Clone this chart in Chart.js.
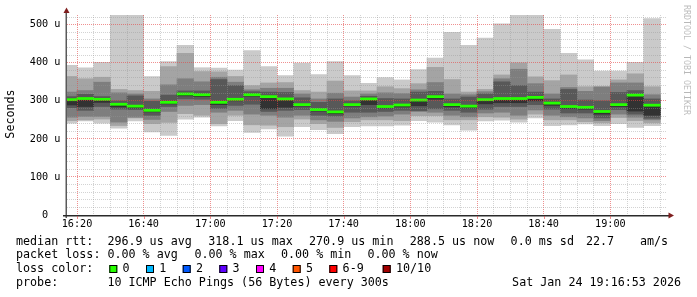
<!DOCTYPE html>
<html>
<head>
<meta charset="utf-8">
<script src="https://cdn.jsdelivr.net/npm/chart.js@4/dist/chart.umd.min.js"></script>
<style>
  html, body { margin: 0; padding: 0; background: #fff; overflow: hidden; }
</style>
</head>
<body>
<canvas id="smokeChart" width="697" height="297"></canvas>
<script>
// 5 minute slots (start time of each step)
const slots = ['16:15','16:20','16:25','16:30','16:35','16:40','16:45','16:50','16:55',
  '17:00','17:05','17:10','17:15','17:20','17:25','17:30','17:35','17:40',
  '17:45','17:50','17:55','18:00','18:05','18:10','18:15','18:20','18:25',
  '18:30','18:35','18:40','18:45','18:50','18:55','19:00','19:05','19:10'];

// median rtt (us)
const median = [303, 306, 304, 291, 286, 275, 296, 318.1, 316, 296, 304, 316, 311, 305, 290, 277, 270.9, 290,
  305, 285, 289, 302, 311, 290, 286, 303, 306, 306, 309, 294, 285, 283, 272, 290, 315, 288.5];

// sorted ping times (us), ping1 = fastest ... ping10 = slowest
const ping1  = [241, 247, 241, 228, 247, 218, 209, 252, 257, 234, 248, 217, 226, 207, 232, 224, 214, 232,
  234, 234, 236, 248, 244, 237, 223, 247, 249, 244, 255, 235, 237, 239, 235, 240, 230, 235];
const ping2  = [248, 250, 252, 235, 255, 240, 243, 266, 262, 240, 262, 237, 236, 232, 252, 240, 230, 245,
  250, 250, 248, 261, 261, 250, 250, 258, 257, 252, 265, 250, 250, 245, 242, 256, 248, 242];
const ping3  = [257, 259, 259, 244, 257, 251, 272, 288, 290, 270, 275, 265, 262, 257, 262, 250, 246, 255,
  258, 260, 265, 272, 270, 262, 258, 268, 270, 262, 276, 262, 258, 255, 248, 265, 257, 250];
const ping4  = [282, 275, 285, 278, 277, 262, 285, 305, 304, 280, 288, 291, 272, 275, 277, 262, 260, 270,
  270, 272, 275, 274, 279, 275, 270, 278, 285, 285, 290, 278, 268, 268, 255, 277, 265, 254];
const ping5  = [289, 285, 296, 284, 281, 271, 292, 313, 311, 290, 300, 312, 279, 283, 286, 273, 266, 286,
  290, 281, 284, 287, 304, 284, 281, 292, 295, 295, 300, 288, 280, 278, 265, 285, 273, 262];
const ping6  = [303, 306, 304, 291, 286, 275, 296, 318, 316, 296, 304, 316, 311, 305, 290, 277, 271, 290,
  305, 285, 289, 302, 311, 290, 286, 303, 306, 306, 309, 294, 285, 283, 272, 290, 315, 289];
const ping7  = [311, 317, 311, 300, 313, 299, 315, 326, 326, 356, 340, 324, 323, 322, 308, 296, 305, 300,
  312, 306, 305, 323, 325, 305, 310, 318, 350, 340, 323, 305, 330, 302, 300, 322, 327, 305];
const ping8  = [323, 327, 349, 321, 318, 305, 342, 358, 350, 362, 349, 329, 333, 333, 318, 305, 320, 310,
  318, 321, 319, 329, 348, 318, 316, 324, 358, 383, 345, 318, 335, 325, 336, 347, 347, 316];
const ping9  = [364, 358, 362, 330, 327, 325, 390, 425, 377, 376, 364, 340, 347, 348, 327, 323, 352, 326,
  326, 337, 332, 345, 388, 356, 323, 330, 368, 400, 363, 353, 368, 337, 338, 355, 371, 337];
const ping10 = [393, 387, 401, 600, 600, 364, 403, 446, 387, 386, 381, 432, 390, 366, 399, 369, 403, 366,
  346, 361, 355, 382, 412, 480, 446, 465, 502, 600, 600, 488, 425, 408, 378, 378, 401, 516];

// axis
const timeStart = '16:17';
const timeEnd = '19:17';
const yMax = 525.5;
const xTickLabels = ['16:20','16:40','17:00','17:20','17:40','18:00','18:20','18:40','19:00'];
const yTickLabels = ['0', '100 u', '200 u', '300 u', '400 u', '500 u'];

const toMin = t => { const [h, m] = t.split(':').map(Number); return h * 60 + m - 16 * 60; };
const fmtMin = v => { const t = v + 16 * 60; return String(Math.floor(t / 60)).padStart(2, '0') + ':' + String(t % 60).padStart(2, '0'); };

const pings = [ping1, ping2, ping3, ping4, ping5, ping6, ping7, ping8, ping9, ping10];
const centers = slots.map(t => toMin(t) + 2.5);
const shades = ['#cacaca', '#a4a4a4', '#7e7e7e', '#585858', '#323232'];
const medHalf = 2.8;

const barBase = { grouped: false, barPercentage: 1, categoryPercentage: 1, borderWidth: 0, clip: 0 };

const datasets = shades.map((c, k) => Object.assign({
  label: 'smoke' + (k + 1),
  data: centers.map((x, i) => ({ x: x, y: [pings[k][i], pings[9 - k][i]] })),
  backgroundColor: c,
  order: 5 - k
}, barBase));

datasets.push(Object.assign({
  label: 'median rtt',
  data: centers.map((x, i) => ({ x: x, y: [median[i] - medHalf, median[i] + medHalf] })),
  backgroundColor: '#26ff00',
  order: 0
}, barBase));

const xGrid = [];
for (let v = 20; v < toMin(timeEnd); v += 5) xGrid.push(v);
const yGrid = [];
for (let v = 0; v < yMax; v += 20) yGrid.push(v);

const MAJOR = 'rgba(228, 70, 70, 0.6)';
const MINOR = 'rgba(150, 150, 150, 0.42)';
const MONO = '"DejaVu Sans Mono", monospace';

// rrdtool style decorations: axes, arrows, legend text
const rrdDecor = {
  id: 'rrdDecor',
  afterDraw(chart) {
    const ctx = chart.ctx;
    const a = chart.chartArea;
    ctx.save();

    // axes
    ctx.lineWidth = 1.5;
    ctx.strokeStyle = '#5a5a5a';
    ctx.beginPath();
    ctx.moveTo(a.left - 0.75, a.bottom + 3);
    ctx.lineTo(a.left - 0.75, 11);
    ctx.stroke();
    ctx.strokeStyle = '#2a2a2a';
    ctx.beginPath();
    ctx.moveTo(a.left - 4, a.bottom + 0.75);
    ctx.lineTo(a.right + 3, a.bottom + 0.75);
    ctx.stroke();

    // small major ticks under the time axis
    ctx.lineWidth = 1;
    ctx.strokeStyle = MAJOR;
    const xs = chart.scales.x;
    xTickLabels.forEach(t => {
      const px = Math.round(xs.getPixelForValue(toMin(t))) + 0.5;
      ctx.beginPath();
      ctx.moveTo(px, a.bottom + 1);
      ctx.lineTo(px, a.bottom + 4);
      ctx.stroke();
    });

    // arrows
    ctx.fillStyle = '#7f1e1e';
    ctx.beginPath();
    ctx.moveTo(a.left - 0.5, 7.5);
    ctx.lineTo(a.left - 3.5, 13);
    ctx.lineTo(a.left + 2.5, 13);
    ctx.closePath();
    ctx.fill();
    ctx.beginPath();
    ctx.moveTo(a.right + 7, a.bottom + 0.5);
    ctx.lineTo(a.right + 1.5, a.bottom - 2.5);
    ctx.lineTo(a.right + 1.5, a.bottom + 3.5);
    ctx.closePath();
    ctx.fill();

    // vertical title
    ctx.fillStyle = '#000';
    ctx.font = '11.7px ' + MONO;
    ctx.textAlign = 'center';
    ctx.textBaseline = 'middle';
    ctx.save();
    ctx.translate(11, 114);
    ctx.rotate(-Math.PI / 2);
    ctx.fillText('Seconds', 0, 0);
    ctx.restore();

    // watermark
    ctx.save();
    ctx.fillStyle = 'rgba(0,0,0,0.28)';
    ctx.font = '8.3px ' + MONO;
    ctx.textAlign = 'left';
    ctx.translate(686.5, 5);
    ctx.rotate(Math.PI / 2);
    ctx.fillText('RRDTOOL / TOBI OETIKER', 0, 0);
    ctx.restore();

    // legend
    ctx.font = '11.7px ' + MONO;
    ctx.textAlign = 'left';
    const put = (s, x, y) => ctx.fillText(s, x, y);
    put('median rtt:', 16, 241.7);
    put('296.9 us avg', 107.4, 241.7);
    put('318.1 us max', 208.3, 241.7);
    put('270.9 us min', 309, 241.7);
    put('288.5 us now', 409.8, 241.7);
    put('0.0 ms sd', 510.6, 241.7);
    put('22.7', 586, 241.7);
    put('am/s', 640, 241.7);

    put('packet loss:', 16, 255);
    put('0.00 % avg', 107.4, 255);
    put('0.00 % max', 194.4, 255);
    put('0.00 % min', 281, 255);
    put('0.00 % now', 367.4, 255);

    put('loss color:', 16, 269.3);
    const lossKeys = [['0', '#26ff00', 109.3], ['1', '#00b8ff', 146], ['2', '#0059ff', 182.7],
      ['3', '#5e00ff', 219.3], ['4', '#ff00ff', 256], ['5', '#ff5500', 292.7],
      ['6-9', '#ff0000', 329.3], ['10/10', '#a10000', 382.7]];
    lossKeys.forEach(([t, c, x]) => {
      ctx.fillStyle = c;
      ctx.fillRect(x, 265, 8, 8);
      ctx.strokeStyle = '#000';
      ctx.strokeRect(x + 0.5, 265.5, 7, 7);
      ctx.fillStyle = '#000';
      put(t, x + 13.3, 269.3);
    });

    put('probe:', 16, 282.7);
    put('10 ICMP Echo Pings (56 Bytes) every 300s', 107.4, 282.7);
    ctx.textAlign = 'right';
    put('Sat Jan 24 19:16:53 2026', 681, 282.7);

    ctx.restore();
  }
};

const ctx = document.getElementById('smokeChart').getContext('2d');
const smokeChart = new Chart(ctx, {
  type: 'bar',
  data: { datasets: datasets },
  options: {
    responsive: false,
    devicePixelRatio: 1,
    animation: false,
    layout: { padding: { top: 15, right: 30, left: 0, bottom: 0 } },
    plugins: { legend: { display: false }, tooltip: { enabled: false } },
    scales: {
      x: {
        type: 'linear',
        offset: false,
        min: toMin(timeStart),
        max: toMin(timeEnd),
        afterBuildTicks: s => { s.ticks = xGrid.map(v => ({ value: v })); },
        afterFit: s => { s.height = 82; },
        grid: {
          z: 1,
          offset: false,
          drawTicks: false,
          color: c => (c.tick && c.tick.value % 20 === 0) ? MAJOR : MINOR
        },
        border: { display: false, dash: [1, 1] },
        ticks: {
          autoSkip: false,
          maxRotation: 0,
          padding: 2.9,
          color: '#000',
          font: { family: MONO, size: 10.2 },
          callback: v => xTickLabels.includes(fmtMin(v)) ? fmtMin(v) : ''
        }
      },
      y: {
        min: 0,
        max: yMax,
        afterBuildTicks: s => { s.ticks = yGrid.map(v => ({ value: v })); },
        afterFit: s => { s.width = 67; },
        grid: {
          z: 1,
          drawTicks: false,
          color: c => (c.tick && c.tick.value % 100 === 0) ? MAJOR : MINOR
        },
        border: { display: false, dash: [1, 1] },
        ticks: {
          autoSkip: false,
          padding: 6.5,
          color: '#000',
          font: { family: MONO, size: 10.2 },
          callback: v => {
            if (v % 100 !== 0) return '';
            const lab = yTickLabels[v / 100];
            return lab === '0' ? '0  ' : lab;
          }
        }
      }
    }
  },
  plugins: [rrdDecor]
});
</script>
</body>
</html>
